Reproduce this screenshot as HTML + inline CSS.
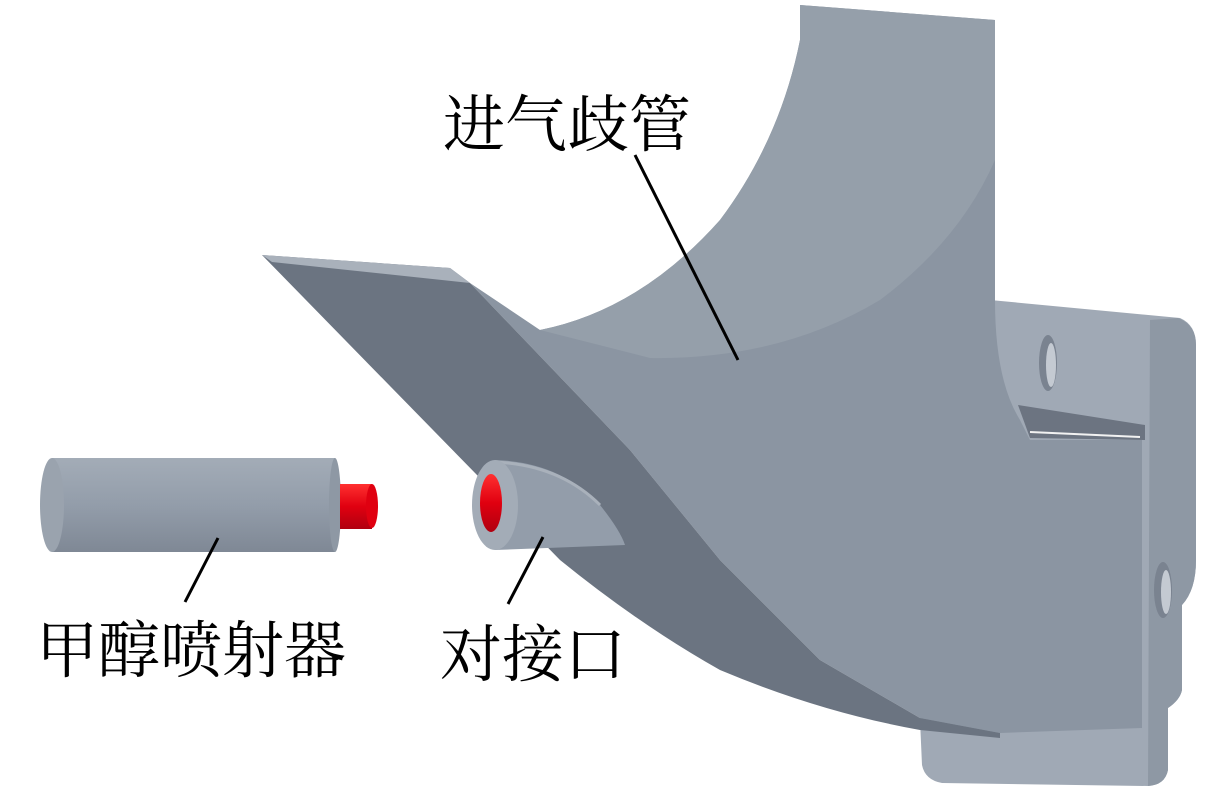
<!DOCTYPE html>
<html><head><meta charset="utf-8"><style>
html,body{margin:0;padding:0;background:#fff;}
svg{display:block}
text{font-family:"Liberation Serif","Noto Serif CJK SC",serif;fill:#000}
</style></head><body>
<svg width="1220" height="800" viewBox="0 0 1220 800" xmlns="http://www.w3.org/2000/svg">
<defs>
<linearGradient id="cyl" x1="0" y1="0" x2="0" y2="1">
<stop offset="0" stop-color="#a3acb7"/><stop offset="0.5" stop-color="#939daa"/><stop offset="1" stop-color="#7f8895"/></linearGradient>
<linearGradient id="red" x1="0" y1="0" x2="0" y2="1">
<stop offset="0" stop-color="#ff3030"/><stop offset="0.5" stop-color="#e00010"/><stop offset="1" stop-color="#b00010"/></linearGradient>
</defs>
<!-- flange -->
<path d="M990 300 L1180 318 Q1196 325 1196 345 L1196 560 Q1196 590 1182 605 L1182 690 Q1180 700 1168 708 L1168 770 Q1165 785 1148 786 L942 783 Q925 780 922 765 L920 720 Z" fill="#a0a9b5"/>
<path d="M1178 318 Q1196 325 1196 345 L1196 560 Q1196 590 1182 605 L1182 690 Q1180 700 1168 708 L1168 770 Q1165 785 1148 786 L1150 320 Z" fill="#8e98a4"/>
<ellipse cx="1048" cy="363" rx="9" ry="28" fill="#7a8390"/><ellipse cx="1051" cy="365" rx="5" ry="22" fill="#c4cad2"/>
<ellipse cx="1163" cy="590" rx="9" ry="28" fill="#7a8390"/><ellipse cx="1166" cy="592" rx="5" ry="22" fill="#c4cad2"/>
<!-- main body -->
<path d="M470 283 L540 330 Q640 310 720 220 Q780 140 800 40 L800 5 L995 20 L995 300 Q995 380 1020 420 L1030 440 L1142 440 L1142 728 L1000 733 L920 718 L820 660 L720 560 L630 450 Z" fill="#8b95a2"/>
<!-- concave inner surface -->
<path d="M540 330 Q640 310 720 220 Q780 140 800 40 L800 5 L995 20 L995 160 Q960 240 880 300 Q780 360 650 358 Z" fill="#959faa"/>
<!-- slot -->
<path d="M1018 405 L1145 425 L1145 440 L1030 438 Z" fill="#6c7481"/>
<path d="M1030 432 L1140 437" stroke="#f2f2f2" stroke-width="2"/>
<!-- dark plate -->
<path d="M262 255 L450 268 L470 283 L630 450 L720 560 L820 660 L920 718 L1000 733 L1000 738 L920 730 Q820 712 720 670 Q640 625 560 560 Z" fill="#6b7481"/>
<path d="M262 255 L450 268 L470 283 L272 262 Z" fill="#a9b1bb"/>
<!-- port -->
<path d="M495 460 Q560 462 600 505 Q620 530 625 545 L495 550 Z" fill="#939daa"/>
<path d="M495 462 Q560 465 600 505" stroke="#a9b1bb" stroke-width="3" fill="none"/>
<ellipse cx="495" cy="505" rx="23" ry="45" fill="#a3acb7"/>
<ellipse cx="491" cy="503" rx="11" ry="29" fill="url(#red)"/>
<!-- injector -->
<rect x="52" y="458" width="283" height="94" fill="url(#cyl)"/>
<ellipse cx="52" cy="505" rx="12" ry="47" fill="#9aa3ae"/>
<ellipse cx="335" cy="505" rx="6" ry="47" fill="#8e98a4"/>
<rect x="340" y="484" width="32" height="45" fill="url(#red)"/>
<ellipse cx="372" cy="506" rx="6" ry="22" fill="#e00010"/>
<!-- leader lines -->
<line x1="635" y1="155" x2="738" y2="360" stroke="#000" stroke-width="3"/>
<line x1="218" y1="538" x2="185" y2="602" stroke="#000" stroke-width="3"/>
<line x1="543" y1="537" x2="508" y2="604" stroke="#000" stroke-width="3"/>
<!-- labels -->
<text x="443" y="146" font-size="62">进气歧管</text>
<text x="36" y="672" font-size="62">甲醇喷射器</text>
<text x="440" y="676" font-size="62">对接口</text>
</svg>
</body></html>
